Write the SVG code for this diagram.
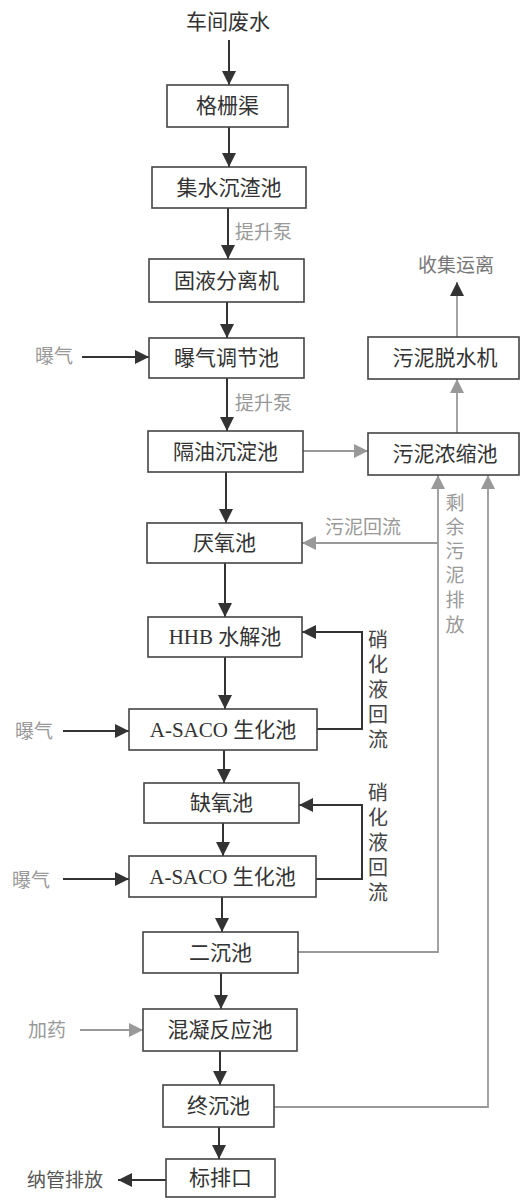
<svg xmlns="http://www.w3.org/2000/svg" width="520" height="1200" viewBox="0 0 520 1200">
<style>
.box{fill:#fff;stroke:#444;stroke-width:1.6}
.t{font-family:"Liberation Serif","Noto Sans CJK SC",serif;font-size:21px;fill:#333;text-anchor:middle;dominant-baseline:central}
.g{font-family:"Liberation Serif","Noto Sans CJK SC",serif;font-size:19px;fill:#999;dominant-baseline:central}
.d{font-family:"Liberation Serif","Noto Sans CJK SC",serif;font-size:20px;fill:#444;dominant-baseline:central}
.ld{stroke:#333;stroke-width:2;fill:none}
.lg{stroke:#999;stroke-width:1.8;fill:none}
</style>
<defs>
<marker id="ad" viewBox="0 0 10 10" refX="10" refY="5" markerWidth="14" markerHeight="14" markerUnits="userSpaceOnUse" orient="auto"><path d="M0,0 L10,5 L0,10 z" fill="#333"/></marker>
<marker id="ag" viewBox="0 0 10 10" refX="10" refY="5" markerWidth="14" markerHeight="14" markerUnits="userSpaceOnUse" orient="auto"><path d="M0,0 L10,5 L0,10 z" fill="#999"/></marker>
</defs>
<rect width="520" height="1200" fill="#fff"/>
<g id="connectors">
<line class="ld" x1="229" y1="40" x2="229" y2="85" marker-end="url(#ad)"/>
<line class="ld" x1="229" y1="127" x2="229" y2="167" marker-end="url(#ad)"/>
<line class="ld" x1="228" y1="208" x2="228" y2="259" marker-end="url(#ad)"/>
<line class="ld" x1="227" y1="302" x2="227" y2="338" marker-end="url(#ad)"/>
<line class="ld" x1="227" y1="378" x2="227" y2="431" marker-end="url(#ad)"/>
<line class="ld" x1="226" y1="472" x2="226" y2="523" marker-end="url(#ad)"/>
<line class="ld" x1="225" y1="563" x2="225" y2="617" marker-end="url(#ad)"/>
<line class="ld" x1="225" y1="657" x2="225" y2="709" marker-end="url(#ad)"/>
<line class="ld" x1="224" y1="750" x2="224" y2="783" marker-end="url(#ad)"/>
<line class="ld" x1="223" y1="823" x2="223" y2="856" marker-end="url(#ad)"/>
<line class="ld" x1="222" y1="897" x2="222" y2="932" marker-end="url(#ad)"/>
<line class="ld" x1="221" y1="973" x2="221" y2="1009" marker-end="url(#ad)"/>
<line class="ld" x1="220" y1="1051" x2="220" y2="1085" marker-end="url(#ad)"/>
<line class="ld" x1="219" y1="1127" x2="219" y2="1159" marker-end="url(#ad)"/>
<line class="ld" x1="82" y1="357" x2="149" y2="357" marker-end="url(#ad)"/>
<line class="ld" x1="63" y1="731" x2="129" y2="731" marker-end="url(#ad)"/>
<line class="ld" x1="63" y1="879" x2="129" y2="879" marker-end="url(#ad)"/>
<line class="lg" x1="80" y1="1030" x2="143" y2="1030" marker-end="url(#ag)"/>
<line class="ld" x1="166" y1="1180" x2="118" y2="1180" marker-end="url(#ad)"/>
<polyline class="ld" points="317,729 362,729 362,632 302,632" marker-end="url(#ad)"/>
<polyline class="ld" points="316,879 362,879 362,805 299,805" marker-end="url(#ad)"/>
<line class="lg" x1="303" y1="451" x2="368" y2="451" marker-end="url(#ag)"/>
<line class="lg" x1="457" y1="433" x2="457" y2="379" marker-end="url(#ag)"/>
<line class="lg" x1="457" y1="337" x2="457" y2="282" marker-end="url(#ad)"/>
<polyline class="lg" points="298,952 438,952 438,475" marker-end="url(#ag)"/>
<line class="lg" x1="438" y1="543" x2="302" y2="543" marker-end="url(#ag)"/>
<polyline class="lg" points="274,1107 488,1107 488,475" marker-end="url(#ag)"/>
</g>
<g id="labels">
<text class="t" x="228" y="22">车间废水</text>
<text class="g" x="235" y="232">提升泵</text>
<text class="g" x="235" y="403">提升泵</text>
<text class="g" x="35" y="356">曝气</text>
<text class="g" x="15" y="731">曝气</text>
<text class="g" x="12" y="880">曝气</text>
<text class="g" x="28" y="1030">加药</text>
<text class="g" x="27" y="1180" style="fill:#555">纳管排放</text>
<text class="g" x="418" y="265" style="fill:#777">收集运离</text>
<text class="g" x="325" y="527">污泥回流</text>
<g class="g" style="text-anchor:middle">
<text x="455" y="503">剩</text><text x="455" y="527">余</text><text x="455" y="551">污</text><text x="455" y="575">泥</text><text x="455" y="600">排</text><text x="455" y="625">放</text>
</g>
<g class="d" style="text-anchor:middle">
<text x="378" y="640">硝</text><text x="378" y="665">化</text><text x="378" y="690">液</text><text x="378" y="715">回</text><text x="378" y="740">流</text>
<text x="378" y="793">硝</text><text x="378" y="818">化</text><text x="378" y="843">液</text><text x="378" y="868">回</text><text x="378" y="893">流</text>
</g>
</g>
<g id="n1"><rect class="box" x="167" y="85" width="121" height="42"/><text class="t" x="227.5" y="106">格栅渠</text></g>
<g id="n2"><rect class="box" x="152" y="167" width="154" height="41"/><text class="t" x="229" y="187.5">集水沉渣池</text></g>
<g id="n3"><rect class="box" x="149" y="259" width="155" height="43"/><text class="t" x="226.5" y="280.5">固液分离机</text></g>
<g id="n4"><rect class="box" x="149" y="338" width="155" height="40"/><text class="t" x="226.5" y="358">曝气调节池</text></g>
<g id="n5"><rect class="box" x="148" y="431" width="155" height="41"/><text class="t" x="225.5" y="451.5">隔油沉淀池</text></g>
<g id="n6"><rect class="box" x="147" y="523" width="155" height="40"/><text class="t" x="224.5" y="543">厌氧池</text></g>
<g id="n7"><rect class="box" x="148" y="617" width="154" height="40"/><text class="t" x="225" y="637">HHB 水解池</text></g>
<g id="n8"><rect class="box" x="129" y="709" width="188" height="41"/><text class="t" x="223" y="729.5">A-SACO 生化池</text></g>
<g id="n9"><rect class="box" x="144" y="783" width="155" height="40"/><text class="t" x="221.5" y="803">缺氧池</text></g>
<g id="n10"><rect class="box" x="129" y="856" width="187" height="41"/><text class="t" x="222.5" y="876.5">A-SACO 生化池</text></g>
<g id="n11"><rect class="box" x="143" y="932" width="155" height="41"/><text class="t" x="220.5" y="952.5">二沉池</text></g>
<g id="n12"><rect class="box" x="143" y="1009" width="154" height="42"/><text class="t" x="220" y="1030">混凝反应池</text></g>
<g id="n13"><rect class="box" x="163" y="1085" width="111" height="42"/><text class="t" x="218.5" y="1106">终沉池</text></g>
<g id="n14"><rect class="box" x="166" y="1159" width="109" height="38"/><text class="t" x="220.5" y="1178">标排口</text></g>
<g id="n15"><rect class="box" x="368" y="337" width="151" height="42"/><text class="t" x="445" y="358">污泥脱水机</text></g>
<g id="n16"><rect class="box" x="368" y="433" width="151" height="42"/><text class="t" x="445" y="454">污泥浓缩池</text></g>
</svg>
